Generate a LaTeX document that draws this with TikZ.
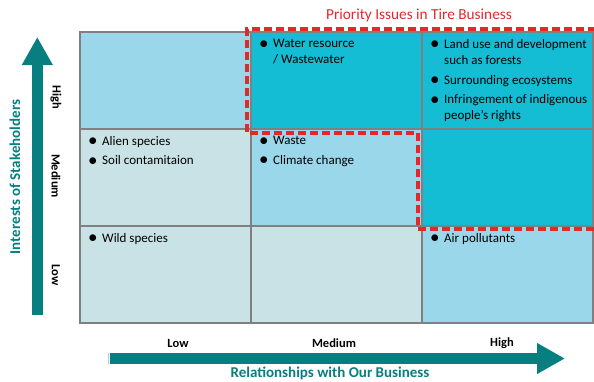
\documentclass[tikz,border=0pt]{standalone}
\usepackage{fontspec}
\setmainfont{Carlito}
\usetikzlibrary{positioning,arrows.meta}

\definecolor{lightblue}{HTML}{9BD7EA}
\definecolor{strongblue}{HTML}{14BCD4}
\definecolor{paleblue}{HTML}{C9E2E5}
\definecolor{axisteal}{HTML}{077E80}
\definecolor{prioityred}{HTML}{E02A2A}

\newcommand{\issue}{\makebox[14pt][l]{\raisebox{-1.6pt}{\fontsize{19}{19}\selectfont\textbullet}}}
\newcommand{\cont}{\hspace*{14pt}}

\begin{document}
\begin{tikzpicture}[
    x=1pt,y=-1pt,
    cell/.style={
      rectangle,draw=gray,line width=1.2pt,outer sep=0pt,
      minimum width=171pt,minimum height=97pt
    },
    issues/.style={
      anchor=north west,align=left,inner sep=0pt,
      font=\fontsize{13}{16}\selectfont
    },
    level/.style={
      font=\bfseries\fontsize{12.5}{14}\selectfont
    },
    axistitle/.style={
      text=axisteal,font=\bfseries\fontsize{15}{17}\selectfont
    },
    axisarrow/.style={
      draw=axisteal,line width=10.5pt,
      -{Triangle[width=29pt,length=28pt]}
    },
    axiscap/.style={
      draw=axisteal!35,line width=1pt
    },
    priority/.style={
      draw=prioityred,line width=3.2pt,
      dash pattern=on 8pt off 4pt
    }]
  \useasboundingbox (0,0) rectangle (594,381);

  % the grid of cells
  \node[cell,fill=lightblue] (c11) at (165.5,80.5) {};
  \node[cell,fill=strongblue,right=0pt of c11] (c12) {};
  \node[cell,fill=strongblue,right=0pt of c12] (c13) {};
  \node[cell,fill=paleblue,below=0pt of c11] (c21) {};
  \node[cell,fill=lightblue,right=0pt of c21] (c22) {};
  \node[cell,fill=strongblue,right=0pt of c22] (c23) {};
  \node[cell,fill=paleblue,below=0pt of c21] (c31) {};
  \node[cell,fill=paleblue,right=0pt of c31] (c32) {};
  \node[cell,fill=lightblue,right=0pt of c32] (c33) {};

  % issues in the cells
  \node[issues] (i12) at ([xshift=8pt,yshift=-7pt]c12.north west)
    {\issue Water resource\\ \cont / Wastewater};
  \node[issues] (i13) at ([xshift=8pt,yshift=-7pt]c13.north west)
    {\issue Land use and development\\ \cont such as forests\\[4pt]
     \issue Surrounding ecosystems\\[3.5pt]
     \issue Infringement of indigenous\\ \cont people's rights};
  \node[issues] (i21) at ([xshift=8pt,yshift=-7pt]c21.north west)
    {\issue Alien species\\[3.5pt] \issue Soil contamitaion};
  \node[issues] (i22) at ([xshift=8pt,yshift=-7pt]c22.north west)
    {\issue Waste\\[3.5pt] \issue Climate change};
  \node[issues] (i31) at ([xshift=8pt,yshift=-7pt]c31.north west)
    {\issue Wild species};
  \node[issues] (i33) at ([xshift=8pt,yshift=-7pt]c33.north west)
    {\issue Air pollutants};

  % priority area
  \draw[priority] (594,229) -- (418,229) -- (418,133) -- (247,133)
    -- (247,29) -- (594,29);
  \node[text=prioityred,font=\fontsize{15.3}{17}\selectfont] (prio) at (419,15)
    {Priority Issues in Tire Business};

  % vertical axis
  \coordinate (ybot) at (37.3,315);
  \coordinate (ytop) at (37.3,37);
  \draw[axiscap] ([xshift=-5.5pt,yshift=2pt]ybot) -- ([xshift=5.5pt,yshift=2pt]ybot);
  \draw[axisarrow] (ybot) -- (ytop);
  \node[axistitle,rotate=90] (ytitle) at (15,177) {Interests of Stakeholders};
  \node[level,rotate=-90] (yhigh) at (56,97) {High};
  \node[level,rotate=-90] (ymed) at (56,176) {Medium};
  \node[level,rotate=-90] (ylow) at (56,275) {Low};

  % horizontal axis
  \coordinate (xleft) at (110,358.5);
  \coordinate (xright) at (565,358.5);
  \draw[axiscap] ([xshift=-2pt,yshift=-5.5pt]xleft) -- ([xshift=-2pt,yshift=5.5pt]xleft);
  \draw[axisarrow] (xleft) -- (xright);
  \node[axistitle] (xtitle) at (330,373.5) {Relationships with Our Business};
  \node[level] (xlow) at (178,343) {Low};
  \node[level] (xmed) at (334,343) {Medium};
  \node[level] (xhigh) at (502,343) {High};
\end{tikzpicture}
\end{document}
